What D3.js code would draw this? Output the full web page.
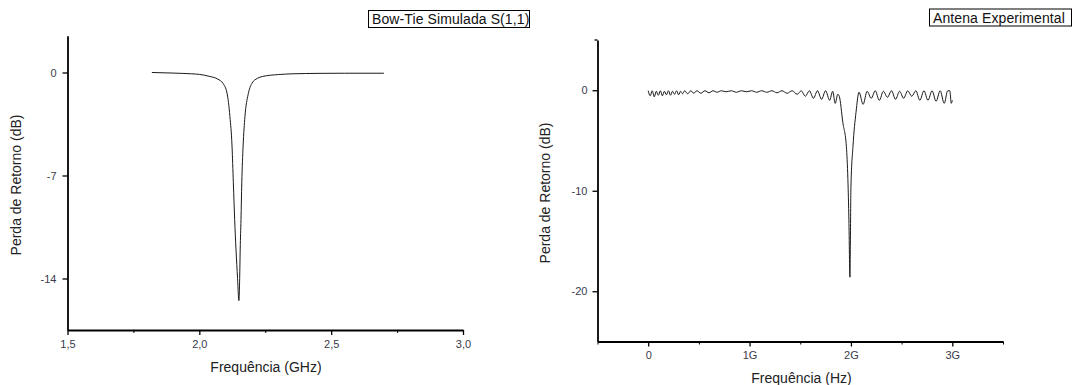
<!DOCTYPE html>
<html>
<head>
<meta charset="utf-8">
<script src="https://cdn.jsdelivr.net/npm/d3@7"></script>
<style>
  body { margin: 0; background: #fff; }
  text { font-family: "Liberation Sans", Arial, sans-serif; }
</style>
</head>
<body>
<script>

// simulated bow-tie S(1,1), GHz / dB
var simFreq = [1.82, 1.90, 1.97, 2.00, 2.04, 2.07, 2.09, 2.105, 2.116, 2.124, 2.129, 2.134, 2.139, 2.145, 2.150,
    2.153, 2.155, 2.158, 2.161, 2.166, 2.173, 2.185, 2.199, 2.22, 2.24, 2.30, 2.355, 2.45, 2.55, 2.70];
var simLoss = [0.0, -0.04, -0.09, -0.13, -0.27, -0.45, -0.75, -1.4, -3.0, -5.0, -7.5, -10.0, -12.0, -14.0, -15.5,
    -14.0, -12.0, -10.0, -7.5, -5.0, -3.0, -1.5, -0.75, -0.4, -0.27, -0.14, -0.09, -0.06, -0.05, -0.05];

// measured antenna, GHz / dB
var expFreq = [0.00, 0.02, 0.04, 0.06, 0.08, 0.10, 0.12, 0.14, 0.16, 0.18, 0.20, 0.22, 0.24, 0.26, 0.28, 0.30,
    0.32, 0.34, 0.36, 0.39, 0.42, 0.45, 0.48, 0.52, 0.56, 0.60, 0.64, 0.68, 0.72, 0.77, 0.82, 0.87, 0.92, 0.97,
    1.02, 1.07, 1.12, 1.17, 1.22, 1.27, 1.32, 1.37, 1.42, 1.47, 1.51, 1.55, 1.59, 1.63, 1.67, 1.71, 1.75, 1.79,
    1.82, 1.845, 1.87, 1.885, 1.92, 1.955, 1.97, 1.98, 1.99, 1.995, 2.00, 2.02, 2.05, 2.08, 2.12, 2.16, 2.20,
    2.24, 2.28, 2.32, 2.36, 2.40, 2.44, 2.48, 2.52, 2.56, 2.60, 2.64, 2.68, 2.72, 2.76, 2.80, 2.84, 2.88, 2.92,
    2.955, 2.975, 2.99, 3.00];
var expLoss = [-0.05, -0.55, -0.05, -0.65, -0.1, -0.5, -0.05, -0.55, -0.1, -0.45, -0.05, -0.5, -0.1, -0.4, -0.05, -0.45,
    -0.1, -0.35, -0.05, -0.35, -0.05, -0.3, -0.05, -0.3, -0.05, -0.25, -0.05, -0.2, -0.05, -0.15, -0.05, -0.2, -0.05, -0.15,
    -0.05, -0.2, -0.05, -0.2, -0.05, -0.25, -0.05, -0.3, -0.05, -0.4, -0.05, -0.6, -0.05, -0.8, -0.05, -0.9, -0.05, -1.0,
    -0.1, -1.3, -0.4, -0.6, -3.2, -5.6, -8.9, -12.9, -18.6, -14.6, -9.6, -5.6, -2.2, -0.2, -1.4, -0.1, -0.8,
    -0.05, -1.0, -0.1, -0.7, -0.05, -0.9, -0.1, -0.8, -0.05, -0.6, -0.05, -1.0, -0.05, -1.0, -0.05, -1.1, -0.05, -1.3,
    -0.05, -0.05, -1.3, -1.0];

var simXTicks = [1.5, 2.0, 2.5, 3.0];
var simXMinor = [1.75, 2.25, 2.75];
var simYTicks = [0, -7, -14];
var expXTicks = [0, 1, 2, 3];
var expXMinor = [-0.5, 0.5, 1.5, 2.5, 3.5];
var expYTicks = [0, -10, -20];

var w = 1072, h = 385;

var svg = d3.select("body").append("svg")
    .attr("width", w)
    .attr("height", h);

var line = (x, y) => d3.line().curve(d3.curveMonotoneX).x(d => x(d[0])).y(d => y(d[1]));

function drawPanel(p) {
    var x = d3.scaleLinear().domain(p.xDomain).range(p.xRange);
    var y = d3.scaleLinear().domain(p.yDomain).range(p.yRange);
    var g = svg.append("g");

    // minor ticks first so the axis line sits on top
    g.append("g")
        .attr("transform", "translate(0," + p.yRange[0] + ")")
        .call(d3.axisBottom(x).tickValues(p.xMinor).tickSize(3).tickSizeOuter(0).tickFormat(""))
        .call(a => a.select(".domain").remove());

    var xa = g.append("g")
        .attr("transform", "translate(0," + p.yRange[0] + ")")
        .call(d3.axisBottom(x).tickValues(p.xTicks).tickSize(5).tickSizeOuter(0).tickPadding(5).tickFormat(p.xFormat));

    // plain hyphen for negatives, as in the original
    var ya = g.append("g")
        .attr("transform", "translate(" + p.xRange[0] + ",0)")
        .call(d3.axisLeft(y).tickValues(p.yTicks).tickSize(5).tickSizeOuter(0).tickPadding(p.yPad).tickFormat(d => String(d)));

    [xa, ya].forEach(a => {
        a.select(".domain").attr("stroke", "#000").attr("stroke-width", 1.8);
        a.selectAll(".tick line").attr("stroke", "#000").attr("stroke-width", 1.3);
        a.selectAll(".tick text").attr("fill", "#3a3a4a").style("font-size", "11px")
            .style("font-family", "'Liberation Sans', Arial, sans-serif");
    });

    if (p.topCap) {
        g.append("line")
            .attr("x1", p.xRange[0] - 3).attr("x2", p.xRange[0])
            .attr("y1", p.yRange[1]).attr("y2", p.yRange[1])
            .attr("stroke", "#000").attr("stroke-width", 1.3);
    }

    g.append("path")
        .datum(d3.zip(p.freq, p.loss))
        .attr("d", line(x, y))
        .attr("fill", "none")
        .attr("stroke", "#1a1a1a")
        .attr("stroke-width", 1);

    // axis titles
    g.append("text")
        .attr("x", p.xTitle[0]).attr("y", p.xTitle[1])
        .attr("text-anchor", "middle")
        .style("font-size", "14px")
        .attr("fill", "#222")
        .text(p.xLabel);

    g.append("text")
        .attr("transform", "translate(" + p.yTitle[0] + "," + p.yTitle[1] + ") rotate(-90)")
        .attr("text-anchor", "middle")
        .style("font-size", "14px")
        .attr("fill", "#222")
        .text("Perda de Retorno (dB)");

    // legend box
    var lg = g.append("g").attr("transform", "translate(" + p.legend[0] + "," + p.legend[1] + ")");
    lg.append("rect")
        .attr("width", p.legend[2]).attr("height", 17)
        .attr("fill", "#fff").attr("stroke", "#000").attr("stroke-width", 1);
    lg.append("text")
        .attr("x", 3.5).attr("y", 13.5)
        .style("font-size", "14px")
        .style("letter-spacing", "0.1px")
        .attr("fill", "#111")
        .text(p.name);
}

drawPanel({
    name: "Bow-Tie Simulada S(1,1)",
    freq: simFreq, loss: simLoss,
    xDomain: [1.5, 3.0], xRange: [67.5, 463],
    yDomain: [-17.5, 2.5], yRange: [330, 35.7],
    xTicks: simXTicks, xMinor: simXMinor, yTicks: simYTicks,
    xFormat: d => d3.format(".1f")(d).replace(".", ","),
    yPad: 6,
    topCap: false,
    xLabel: "Frequência (GHz)", xTitle: [266, 372],
    yTitle: [21, 185],
    legend: [368.5, 10.5, 161]
});

drawPanel({
    name: "Antena Experimental",
    freq: expFreq, loss: expLoss,
    xDomain: [-0.5, 3.5], xRange: [597.5, 1003],
    yDomain: [-25, 5], yRange: [341.5, 40],
    xTicks: expXTicks, xMinor: expXMinor, yTicks: expYTicks,
    xFormat: d => d === 0 ? "0" : d + "G",
    yPad: 5,
    topCap: true,
    xLabel: "Frequência (Hz)", xTitle: [801.5, 383],
    yTitle: [550, 193],
    legend: [929.5, 9, 142]
});

</script>
</body>
</html>
